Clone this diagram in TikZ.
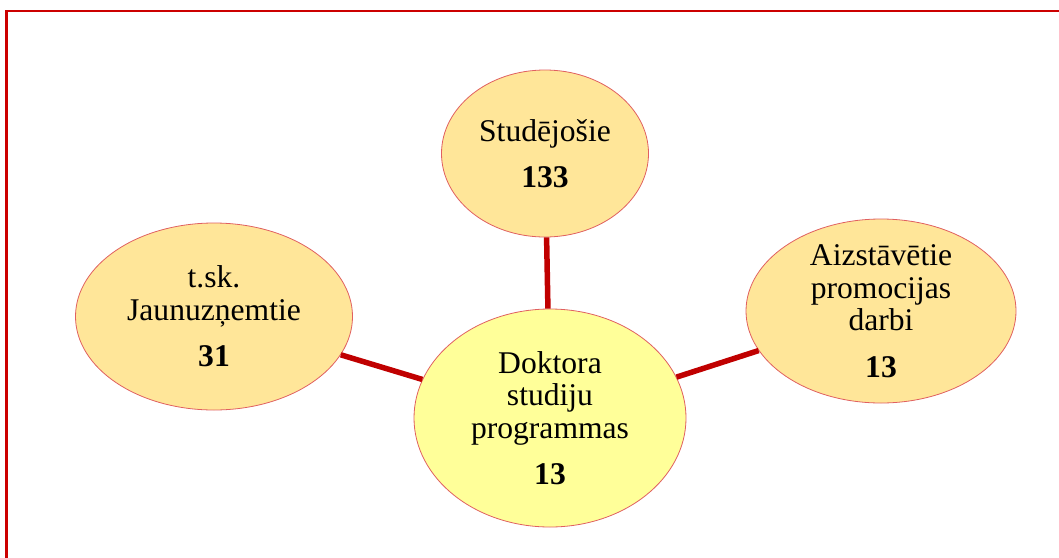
\documentclass[tikz,border=0pt]{standalone}
\usepackage{fontspec}
\setmainfont{Liberation Serif}
\usetikzlibrary{shapes.geometric}
\definecolor{frame}{HTML}{CC0000}
\definecolor{link}{HTML}{C00000}
\definecolor{outerfill}{HTML}{FFE699}
\definecolor{innerfill}{HTML}{FFFF99}
\definecolor{rim}{HTML}{E06060}
\begin{document}
\begin{tikzpicture}[x=1pt,y=-1pt,
  bubble/.style={ellipse, draw=rim, line width=0.8pt, inner sep=-25pt, align=center,
    font=\fontsize{31.6}{32.5}\selectfont},
  sidebubble/.style={bubble, fill=outerfill},
  hubbubble/.style={bubble, fill=innerfill},
  linkline/.style={draw=link, line width=5.5pt},
  framestyle/.style={draw=frame, line width=2.6pt}]
\useasboundingbox (0,0) rectangle (1059,557);
\clip (0,0) rectangle (1059,557);
\draw[framestyle] (6.7,600) -- (6.7,10.8) -- (1100,10.8);
\node[hubbubble, minimum width=272pt, minimum height=218pt] (hub) at (550,418)
  {Doktora\\studiju\\programmas\\[14pt]\textbf{13}};
\node[sidebubble, minimum width=207pt, minimum height=167pt] (top) at (545,153.5)
  {Studējošie\\[14pt]\textbf{133}};
\node[sidebubble, minimum width=277pt, minimum height=187pt] (left) at (214,316.5)
  {t.sk.\\Jaunuzņemtie\\[14pt]\textbf{31}};
\node[sidebubble, minimum width=270pt, minimum height=184pt] (right) at (881,311)
  {Aizstāvētie\\promocijas\\darbi\\[14pt]\textbf{13}};
\draw[linkline] (hub) -- (top);
\draw[linkline] (hub) -- (left);
\draw[linkline] (hub) -- (right);
\end{tikzpicture}
\end{document}
